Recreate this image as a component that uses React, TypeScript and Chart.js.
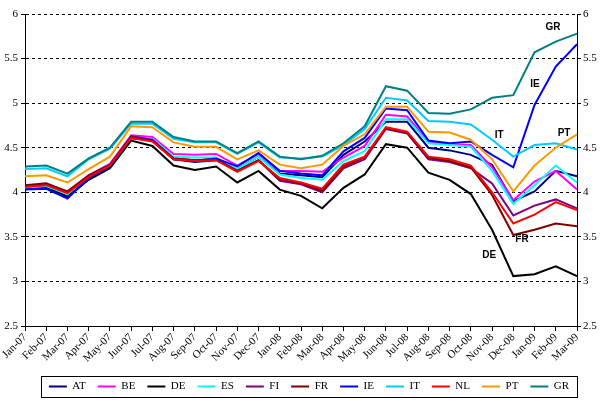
import React, { useEffect, useRef } from "react";
import { Chart, registerables } from "chart.js";

Chart.register(...registerables);

const months = [
  "Jan-07", "Feb-07", "Mar-07", "Apr-07", "May-07", "Jun-07", "Jul-07", "Aug-07", "Sep-07",
  "Oct-07", "Nov-07", "Dec-07", "Jan-08", "Feb-08", "Mar-08", "Apr-08", "May-08", "Jun-08",
  "Jul-08", "Aug-08", "Sep-08", "Oct-08", "Nov-08", "Dec-08", "Jan-09", "Feb-09", "Mar-09",
];

const AT = [4.04, 4.06, 3.95, 4.16, 4.29, 4.61, 4.58, 4.37, 4.34, 4.36, 4.26, 4.40, 4.21, 4.19, 4.17, 4.42, 4.57, 4.79, 4.79, 4.50, 4.47, 4.42, 4.31, 3.90, 4.01, 4.24, 4.18];
const BE = [4.06, 4.09, 4.00, 4.19, 4.32, 4.64, 4.62, 4.43, 4.42, 4.43, 4.30, 4.43, 4.24, 4.24, 4.23, 4.39, 4.52, 4.87, 4.85, 4.57, 4.54, 4.53, 4.28, 3.91, 4.12, 4.24, 4.03];
const DE = [4.04, 4.06, 3.95, 4.14, 4.27, 4.58, 4.52, 4.30, 4.25, 4.29, 4.11, 4.24, 4.03, 3.96, 3.82, 4.05, 4.20, 4.54, 4.50, 4.22, 4.14, 3.98, 3.58, 3.06, 3.08, 3.17, 3.06];
const ES = [4.05, 4.07, 3.98, 4.17, 4.30, 4.62, 4.60, 4.40, 4.39, 4.39, 4.26, 4.40, 4.20, 4.16, 4.14, 4.35, 4.46, 4.82, 4.82, 4.55, 4.53, 4.51, 4.24, 3.87, 4.08, 4.30, 4.11];
const FI = [4.07, 4.09, 4.00, 4.18, 4.30, 4.63, 4.59, 4.38, 4.36, 4.37, 4.24, 4.36, 4.13, 4.09, 4.00, 4.27, 4.37, 4.71, 4.66, 4.37, 4.34, 4.27, 4.10, 3.74, 3.85, 3.92, 3.82];
const FR = [4.08, 4.10, 4.01, 4.19, 4.31, 4.62, 4.58, 4.38, 4.36, 4.37, 4.24, 4.36, 4.15, 4.10, 4.02, 4.29, 4.39, 4.72, 4.67, 4.39, 4.35, 4.28, 3.97, 3.52, 3.58, 3.65, 3.62];
const IE = [4.03, 4.04, 3.93, 4.16, 4.29, 4.61, 4.58, 4.37, 4.35, 4.38, 4.29, 4.44, 4.24, 4.21, 4.19, 4.46, 4.61, 4.94, 4.92, 4.58, 4.55, 4.57, 4.42, 4.28, 4.98, 5.41, 5.66];
const IT = [4.26, 4.27, 4.18, 4.37, 4.49, 4.77, 4.77, 4.60, 4.56, 4.56, 4.43, 4.56, 4.39, 4.38, 4.40, 4.53, 4.71, 5.06, 5.03, 4.80, 4.79, 4.76, 4.59, 4.40, 4.53, 4.55, 4.48];
const NL = [4.06, 4.08, 3.99, 4.17, 4.30, 4.61, 4.57, 4.37, 4.35, 4.36, 4.23, 4.35, 4.16, 4.11, 4.04, 4.31, 4.40, 4.73, 4.68, 4.40, 4.37, 4.30, 4.00, 3.65, 3.75, 3.89, 3.80];
const PT = [4.18, 4.19, 4.11, 4.26, 4.40, 4.74, 4.73, 4.56, 4.51, 4.51, 4.37, 4.47, 4.31, 4.27, 4.31, 4.52, 4.65, 4.96, 4.96, 4.68, 4.67, 4.59, 4.37, 4.01, 4.30, 4.50, 4.65];
const GR = [4.29, 4.30, 4.21, 4.38, 4.50, 4.79, 4.79, 4.62, 4.57, 4.57, 4.44, 4.57, 4.40, 4.37, 4.41, 4.55, 4.74, 5.19, 5.14, 4.89, 4.88, 4.93, 5.06, 5.09, 5.57, 5.69, 5.78];

const seriesNames = ["AT", "BE", "DE", "ES", "FI", "FR", "IE", "IT", "NL", "PT", "GR"];
const seriesValues = [AT, BE, DE, ES, FI, FR, IE, IT, NL, PT, GR];
const seriesColors = [
  "#000080", "#FF00FF", "#000000", "#00FFFF", "#800080", "#800000",
  "#0000FF", "#00CCFF", "#FF0000", "#FF9900", "#008080",
];

const yMin = 2.5;
const yMax = 6;
const yStep = 0.5;

// text labels placed on the plot: category index (fractional) and value
const annotationTexts = ["GR", "IE", "IT", "PT", "FR", "DE"];
const annotationIdx = [24.87, 24.02, 22.33, 25.39, 23.41, 21.86];
const annotationVal = [5.85, 5.21, 4.64, 4.66, 3.47, 3.29];

const serif = "'Liberation Serif', 'Times New Roman', serif";
const sans = "'Liberation Sans', Arial, sans-serif";

const annotationPlugin = {
  id: "seriesAnnotations",
  afterDatasetsDraw(chart: any) {
    const { ctx, scales } = chart;
    ctx.save();
    ctx.font = `bold 10px ${sans}`;
    ctx.fillStyle = "#000";
    ctx.textAlign = "center";
    ctx.textBaseline = "middle";
    annotationTexts.forEach((t, i) => {
      const x = scales.x.getPixelForValue(annotationIdx[i]);
      const y = scales.y.getPixelForValue(annotationVal[i]);
      ctx.fillText(t, x, y);
    });
    ctx.restore();
  },
};

const legendShiftPlugin = {
  id: "legendShift",
  afterLayout(chart: any) {
    const lg = chart.legend;
    if (!lg) return;
    lg.left += 9;
    lg.right += 9;
    lg.top += 5;
    lg.bottom += 5;
  },
};

const legendBoxPlugin = {
  id: "legendBox",
  afterDraw(chart: any) {
    const lg = chart.legend;
    if (!lg || !lg.legendHitBoxes || !lg.legendHitBoxes.length) return;
    const boxes = lg.legendHitBoxes;
    let left = Infinity, right = -Infinity, top = Infinity, bottom = -Infinity;
    boxes.forEach((b: any) => {
      left = Math.min(left, b.left);
      right = Math.max(right, b.left + b.width);
      top = Math.min(top, b.top);
      bottom = Math.max(bottom, b.top + b.height);
    });
    const { ctx } = chart;
    ctx.save();
    ctx.strokeStyle = "#000";
    ctx.lineWidth = 1;
    ctx.strokeRect(Math.round(left - 8) + 0.5, Math.round(top - 5) + 0.5, Math.round(right - left + 16), Math.round(bottom - top + 10));
    ctx.restore();
  },
};

const fmtTick = (v: any) => String(Number(v));

export default function App() {
  const ref = useRef<HTMLCanvasElement>(null);

  useEffect(() => {
    if (!ref.current) return;
    const chart = new Chart(ref.current, {
      type: "line",
      data: {
        labels: months,
        datasets: seriesNames.map((name, i) => ({
          label: name,
          data: seriesValues[i],
          borderColor: seriesColors[i],
          backgroundColor: seriesColors[i],
          borderWidth: 2,
          pointRadius: 0,
          pointHoverRadius: 0,
          tension: 0,
          fill: false,
          order: seriesNames.length - i,
        })),
      },
      options: {
        responsive: false,
        animation: false,
        events: [],
        layout: { padding: { top: 14, right: 0, bottom: 3, left: 0 } },
        plugins: {
          tooltip: { enabled: false },
          legend: {
            display: true,
            position: "bottom",
            labels: {
              usePointStyle: true,
              pointStyle: "line",
              pointStyleWidth: 18,
              color: "#000",
              font: { family: serif, size: 11 },
              padding: 12,
              sort: (a: any, b: any) => a.datasetIndex - b.datasetIndex,
            },
          },
        },
        scales: {
          x: {
            type: "category",
            offset: false,
            grid: { display: true, drawOnChartArea: false, drawTicks: true, tickLength: 5, color: "#000" },
            border: { display: true, color: "#000", width: 1 },
            ticks: {
              autoSkip: false,
              maxRotation: 45,
              minRotation: 45,
              color: "#000",
              font: { family: serif, size: 11 },
              padding: 0,
            },
            afterFit: (s: any) => { s.height = 38; },
          },
          y: {
            position: "left",
            min: yMin,
            max: yMax,
            ticks: { stepSize: yStep, color: "#000", font: { family: serif, size: 11 }, padding: 3, callback: fmtTick },
            grid: { color: "#000", lineWidth: 1, tickLength: 4, drawTicks: true },
            border: { display: true, color: "#000", width: 1, dash: [3, 3] },
            afterFit: (s: any) => { s.width = 25; },
          },
          y1: {
            position: "right",
            min: yMin,
            max: yMax,
            ticks: { stepSize: yStep, color: "#000", font: { family: serif, size: 11 }, padding: 2, callback: fmtTick },
            grid: { drawOnChartArea: false, tickLength: 4, color: "#000" },
            border: { display: true, color: "#000", width: 1 },
            afterFit: (s: any) => { s.width = 23; },
          },
        },
      },
      plugins: [legendShiftPlugin, annotationPlugin, legendBoxPlugin],
    } as any);
    return () => chart.destroy();
  }, []);

  return (
    <div style={{ position: "absolute", left: 0, top: 0, width: 600, height: 400, background: "#fff" }}>
      <canvas ref={ref} width={600} height={400} style={{ width: 600, height: 400 }} />
    </div>
  );
}
